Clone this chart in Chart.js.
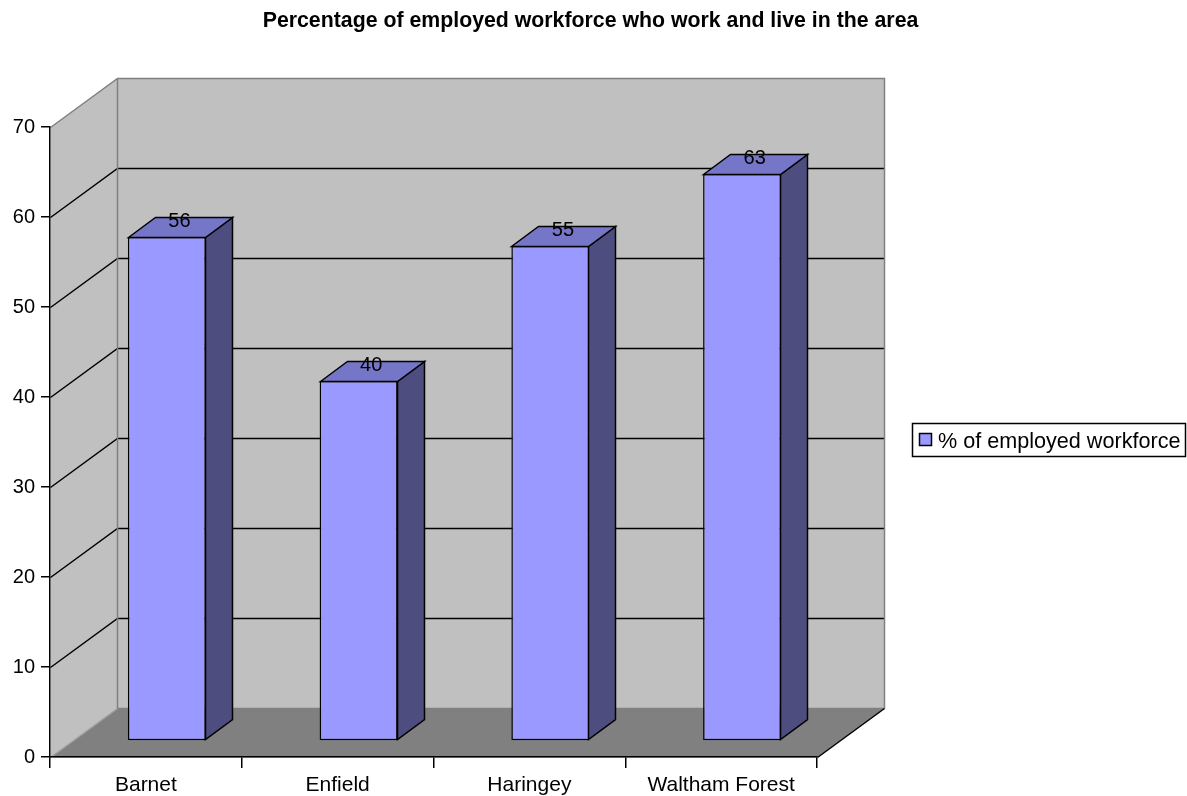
<!DOCTYPE html>
<html>
<head>
<meta charset="utf-8">
<title>Percentage of employed workforce who work and live in the area</title>
<script src="https://cdn.jsdelivr.net/npm/chart.js@4.4.1/dist/chart.umd.min.js"></script>
<style>
  html, body { margin: 0; padding: 0; background: #ffffff; }
  canvas { display: block; }
</style>
</head>
<body>
<canvas id="chart" width="1187" height="796"></canvas>
<script>
// chart data
const categories = ["Barnet", "Enfield", "Haringey", "Waltham Forest"];
const workforce = [56, 40, 55, 63];
const yTicks = [0, 10, 20, 30, 40, 50, 60, 70];
const seriesName = "% of employed workforce";
const chartTitle = "Percentage of employed workforce who work and live in the area";

const FONT = "'Liberation Sans', Arial, sans-serif";
const LINE = 1.5;
// depth of the 3d box (walls and floor)
const DX = 67, DY = 49;
// bars start about a third of the way back and take 40% of the depth
const FRONT_X = 21, FRONT_Y = 16;
const BX = Math.round(DX * 0.4), BY = Math.round(DY * 0.4);

const FRONT_COLOR = "#9999ff";
const TOP_COLOR = "#7676c8";
const SIDE_COLOR = "#4d4d80";

function poly(ctx, pts) {
  ctx.beginPath();
  ctx.moveTo(pts[0][0], pts[0][1]);
  for (let i = 1; i < pts.length; i++) ctx.lineTo(pts[i][0], pts[i][1]);
  ctx.closePath();
}

//plugin that draws the walls, floor, bar sides, labels, title and legend
const box3d = {
  id: "box3d",
  beforeDraw(chart) {
    const { ctx, chartArea: a, scales: { y } } = chart;
    const L = Math.round(a.left) + 0.5, R = Math.round(a.right) + 0.5;
    const T = Math.round(a.top) + 0.5, B = Math.round(a.bottom) + 0.5;
    ctx.save();
    ctx.lineWidth = LINE;
    // side wall + back wall
    ctx.fillStyle = "#c0c0c0";
    poly(ctx, [[L, B], [L, T], [L + DX, T - DY], [L + DX, B - DY]]);
    ctx.fill();
    ctx.fillRect(L + DX, T - DY, R - L, B - T);
    // floor
    ctx.fillStyle = "#808080";
    poly(ctx, [[L, B], [R, B], [R + DX, B - DY], [L + DX, B - DY]]);
    ctx.fill();
    // gridlines on side and back walls
    ctx.strokeStyle = "#000000";
    yTicks.slice(1, -1).forEach((v) => {
      const py = Math.round(y.getPixelForValue(v)) + 0.5;
      ctx.beginPath();
      ctx.moveTo(L, py);
      ctx.lineTo(L + DX, py - DY);
      ctx.lineTo(R + DX, py - DY);
      ctx.stroke();
    });
    // wall edges
    ctx.strokeStyle = "#808080";
    ctx.beginPath();
    ctx.moveTo(L, T);
    ctx.lineTo(L + DX, T - DY);
    ctx.lineTo(R + DX, T - DY);
    ctx.lineTo(R + DX, B - DY);
    ctx.moveTo(L + DX, T - DY);
    ctx.lineTo(L + DX, B - DY);
    ctx.lineTo(R + DX, B - DY);
    ctx.stroke();
    ctx.strokeStyle = "#a0a0a0";
    ctx.beginPath();
    ctx.moveTo(L, B);
    ctx.lineTo(L + DX, B - DY);
    ctx.stroke();
    // floor front-right edge
    ctx.strokeStyle = "#000000";
    ctx.beginPath();
    ctx.moveTo(R, B);
    ctx.lineTo(R + DX, B - DY);
    ctx.stroke();
    ctx.restore();
  },
  beforeDatasetsDraw(chart) {
    chart.ctx.save();
    chart.ctx.translate(FRONT_X, -FRONT_Y);
  },
  afterDatasetsDraw(chart) {
    const ctx = chart.ctx;
    const meta = chart.getDatasetMeta(0);
    ctx.lineWidth = LINE;
    ctx.lineJoin = "miter";
    ctx.strokeStyle = "#000000";
    meta.data.forEach((bar, i) => {
      const { x, y, base, width } = bar.getProps(["x", "y", "base", "width"], true);
      const l = Math.round(x - width / 2) + 0.5, r = Math.round(x + width / 2) - 0.5;
      const t = Math.round(Math.min(y, base)) + 0.5, b = Math.round(Math.max(y, base)) - 0.5;
      // side face
      ctx.fillStyle = SIDE_COLOR;
      poly(ctx, [[r, t], [r + BX, t - BY], [r + BX, b - BY], [r, b]]);
      ctx.fill();
      ctx.stroke();
      // top face
      ctx.fillStyle = TOP_COLOR;
      poly(ctx, [[l, t], [l + BX, t - BY], [r + BX, t - BY], [r, t]]);
      ctx.fill();
      ctx.stroke();
      // value label
      ctx.fillStyle = "#000000";
      ctx.font = "20px " + FONT;
      ctx.textAlign = "center";
      ctx.textBaseline = "middle";
      ctx.fillText(String(workforce[i]), x + BX / 2 - 1, t - BY + 4);
    });
    ctx.restore();
  },
  afterDraw(chart) {
    const ctx = chart.ctx;
    ctx.save();
    // title
    ctx.fillStyle = "#000000";
    ctx.font = "bold 21.3px " + FONT;
    ctx.textAlign = "center";
    ctx.textBaseline = "middle";
    ctx.fillText(chartTitle, chart.width / 2 - 3, 21);
    // legend
    ctx.lineWidth = LINE;
    ctx.strokeStyle = "#000000";
    ctx.strokeRect(912.5, 423.5, 273, 33);
    ctx.fillStyle = FRONT_COLOR;
    ctx.fillRect(919.5, 433.5, 12, 12);
    ctx.strokeRect(919.5, 433.5, 12, 12);
    ctx.fillStyle = "#000000";
    ctx.font = "21.6px " + FONT;
    ctx.textAlign = "left";
    ctx.fillText(seriesName, 938, 442);
    ctx.restore();
  }
};

const myChart = new Chart(document.getElementById("chart"), {
  type: "bar",
  plugins: [box3d],
  data: {
    labels: categories,
    datasets: [
      {
        label: seriesName,
        data: workforce,
        backgroundColor: FRONT_COLOR,
        borderColor: "#000000",
        borderWidth: LINE,
        borderSkipped: false,
        barPercentage: 0.407,
        categoryPercentage: 1,
      },
    ],
  },
  options: {
    responsive: false,
    animation: false,
    layout: { padding: { top: 127, right: 370, bottom: 0, left: 0 } },
    plugins: {
      legend: { display: false },
      title: { display: false },
      tooltip: { enabled: false },
    },
    scales: {
      x: {
        afterFit: (scale) => { scale.height = 39; },
        grid: { drawOnChartArea: false, color: "#000000", lineWidth: LINE, tickLength: 11, offset: true },
        border: { color: "#000000", width: LINE },
        ticks: { color: "#000000", font: { family: FONT, size: 21 }, padding: 5, maxRotation: 0 },
      },
      y: {
        min: yTicks[0],
        max: yTicks[yTicks.length - 1],
        afterFit: (scale) => { scale.width = 50; },
        grid: { drawOnChartArea: false, color: "#000000", lineWidth: LINE, tickLength: 9 },
        border: { color: "#000000", width: LINE },
        ticks: { stepSize: yTicks[1] - yTicks[0], color: "#000000", font: { family: FONT, size: 20 }, padding: 6 },
      },
    },
  },
});
</script>
</body>
</html>
